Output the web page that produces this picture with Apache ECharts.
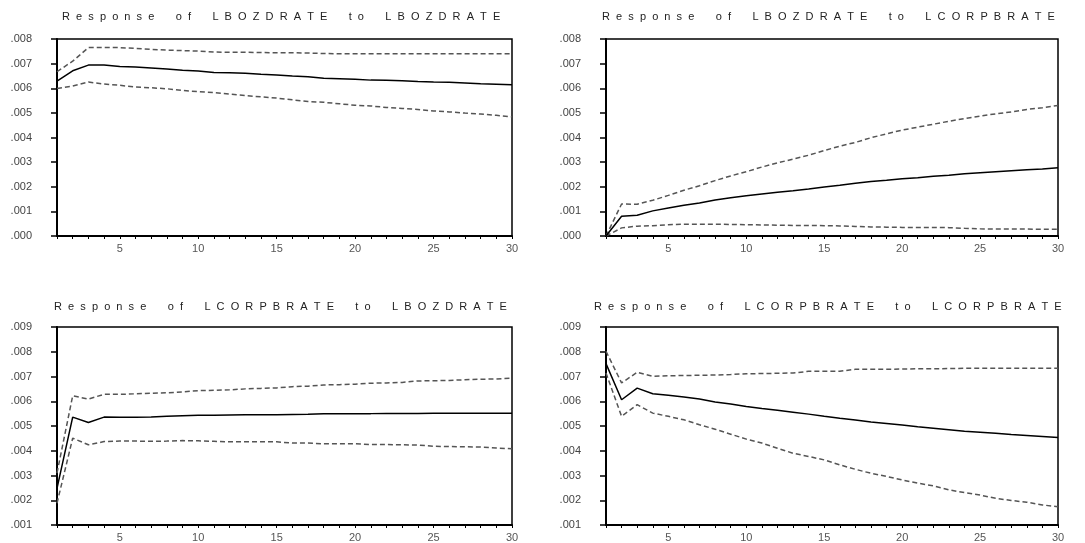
<!DOCTYPE html>
<html>
<head>
<meta charset="utf-8">
<script src="https://cdn.jsdelivr.net/npm/echarts@6/dist/echarts.min.js"></script>
<style>
html,body{margin:0;padding:0;background:#fff;}
#c{width:1085px;height:543px;}
</style>
</head>
<body>
<div id="c"></div>
<script>
// Horizon (periods)
const periods = Array.from({length: 30}, (_, i) => i + 1);

// Panel titles
const panelTitles = [
  ['Response', 'of', 'LBOZDRATE', 'to', 'LBOZDRATE'],
  ['Response', 'of', 'LBOZDRATE', 'to', 'LCORPBRATE'],
  ['Response', 'of', 'LCORPBRATE', 'to', 'LBOZDRATE'],
  ['Response', 'of', 'LCORPBRATE', 'to', 'LCORPBRATE']
];

// Values in thousandths (.001 units)
// Panel 1: LBOZDRATE to LBOZDRATE
const p1Mid = [6.29,6.71,6.94,6.94,6.88,6.86,6.82,6.78,6.73,6.70,6.64,6.63,6.61,6.57,6.54,6.50,6.47,6.41,6.39,6.37,6.33,6.32,6.30,6.27,6.25,6.24,6.21,6.18,6.16,6.14];
const p1Up  = [6.67,7.10,7.65,7.65,7.65,7.62,7.58,7.55,7.53,7.51,7.47,7.46,7.46,7.45,7.44,7.44,7.43,7.41,7.40,7.40,7.40,7.40,7.40,7.40,7.40,7.40,7.40,7.40,7.40,7.40];
const p1Lo  = [5.99,6.09,6.25,6.17,6.12,6.05,6.02,5.98,5.91,5.86,5.82,5.76,5.70,5.65,5.60,5.53,5.46,5.43,5.37,5.31,5.28,5.22,5.18,5.14,5.08,5.04,4.99,4.95,4.90,4.84];
// Panel 2: LBOZDRATE to LCORPBRATE
const p2Mid = [0.00,0.80,0.84,1.02,1.14,1.25,1.34,1.46,1.55,1.63,1.71,1.78,1.84,1.91,1.99,2.06,2.14,2.21,2.26,2.32,2.37,2.43,2.47,2.53,2.57,2.61,2.65,2.69,2.72,2.77];
const p2Up  = [0.00,1.30,1.29,1.45,1.65,1.86,2.04,2.25,2.44,2.61,2.80,2.97,3.12,3.28,3.47,3.65,3.80,3.99,4.15,4.30,4.42,4.54,4.66,4.77,4.87,4.96,5.04,5.14,5.21,5.30];
const p2Lo  = [0.00,0.33,0.40,0.42,0.46,0.48,0.48,0.48,0.47,0.46,0.45,0.44,0.43,0.43,0.42,0.41,0.39,0.37,0.36,0.35,0.35,0.35,0.34,0.31,0.29,0.28,0.28,0.28,0.27,0.27];
// Panel 3: LCORPBRATE to LBOZDRATE
const p3Mid = [2.48,5.36,5.14,5.36,5.35,5.35,5.36,5.39,5.41,5.43,5.43,5.44,5.45,5.45,5.45,5.46,5.47,5.49,5.50,5.50,5.50,5.51,5.51,5.51,5.52,5.52,5.52,5.52,5.52,5.52];
const p3Up  = [3.10,6.22,6.09,6.28,6.28,6.30,6.32,6.34,6.38,6.43,6.44,6.46,6.50,6.52,6.54,6.59,6.61,6.66,6.67,6.69,6.73,6.74,6.76,6.82,6.83,6.84,6.87,6.89,6.90,6.94];
const p3Lo  = [1.88,4.51,4.24,4.37,4.39,4.39,4.38,4.39,4.41,4.40,4.38,4.36,4.36,4.36,4.36,4.31,4.31,4.28,4.28,4.28,4.25,4.25,4.24,4.23,4.18,4.17,4.16,4.15,4.11,4.08];
// Panel 4: LCORPBRATE to LCORPBRATE
const p4Mid = [7.52,6.06,6.53,6.30,6.24,6.17,6.09,5.97,5.89,5.79,5.71,5.64,5.56,5.48,5.39,5.31,5.24,5.16,5.10,5.04,4.97,4.91,4.85,4.79,4.75,4.71,4.66,4.62,4.58,4.54];
const p4Up  = [8.02,6.74,7.17,7.01,7.03,7.04,7.05,7.06,7.08,7.11,7.12,7.13,7.14,7.21,7.21,7.21,7.29,7.29,7.29,7.30,7.31,7.31,7.32,7.33,7.33,7.33,7.33,7.33,7.33,7.33];
const p4Lo  = [7.14,5.39,5.86,5.52,5.39,5.25,5.05,4.87,4.67,4.47,4.31,4.10,3.90,3.77,3.63,3.43,3.25,3.09,2.96,2.82,2.69,2.58,2.42,2.31,2.21,2.08,1.99,1.92,1.81,1.74];

// Y ranges (thousandths)
const yMins = [0, 0, 1, 1];
const yMaxs = [8, 8, 9, 9];

const panels = [
  {mid: p1Mid, up: p1Up, lo: p1Lo},
  {mid: p2Mid, up: p2Up, lo: p2Lo},
  {mid: p3Mid, up: p3Up, lo: p3Lo},
  {mid: p4Mid, up: p4Up, lo: p4Lo}
];

// Layout
const grids = [
  {left: 57, top: 39, width: 455, height: 197},
  {left: 606, top: 39, width: 452, height: 197},
  {left: 57, top: 327, width: 455, height: 198},
  {left: 606, top: 327, width: 452, height: 198}
];
const titlePos = [
  {left: 62, top: 11},
  {left: 602, top: 11},
  {left: 54, top: 301},
  {left: 594, top: 301}
];

function spaced(words) {
  return words.map(w => w.split('').join('  ')).join('       ');
}

const FONT = 'Liberation Sans';
const option = {
  animation: false,
  backgroundColor: '#fff',
  title: panelTitles.map((t, i) => ({
    text: spaced(t),
    left: titlePos[i].left,
    top: titlePos[i].top,
    padding: 0,
    textStyle: {fontFamily: FONT, fontSize: 11, fontWeight: 'normal', color: '#222'}
  })),
  grid: grids.map(g => Object.assign({show: true, borderColor: '#000', borderWidth: 1.5, backgroundColor: '#fff'}, g)),
  xAxis: grids.map((g, i) => ({
    type: 'value', gridIndex: i, min: 1, max: 30, interval: 1,
    axisLine: {lineStyle: {color: '#000', width: 2}},
    axisTick: {length: 3, lineStyle: {color: '#000', width: 1}},
    axisLabel: {
      fontFamily: FONT, fontSize: 11, color: '#555', margin: 7,
      formatter: v => (v % 5 === 0 ? String(v) : '')
    },
    splitLine: {show: false}
  })),
  yAxis: grids.map((g, i) => ({
    type: 'value', gridIndex: i, min: yMins[i], max: yMaxs[i], interval: 1,
    axisLine: {show: true, lineStyle: {color: '#000', width: 2}},
    axisTick: {show: true, length: 6, lineStyle: {color: '#000', width: 1.5}},
    axisLabel: {
      fontFamily: FONT, fontSize: 11, color: '#444', margin: 25,
      formatter: v => '.' + String(Math.round(v)).padStart(3, '0')
    },
    splitLine: {show: false}
  })),
  series: []
};

panels.forEach((p, i) => {
  const mk = (arr, dashed) => ({
    type: 'line', xAxisIndex: i, yAxisIndex: i, symbol: 'none', clip: true,
    data: periods.map((x, k) => [x, arr[k]]),
    lineStyle: dashed ? {color: '#555', width: 1.5, type: [5, 3]} : {color: '#000', width: 1.5}
  });
  option.series.push(mk(p.up, true), mk(p.lo, true), mk(p.mid, false));
});

const chart = echarts.init(document.getElementById('c'), null, {renderer: 'canvas'});
chart.setOption(option);
</script>
</body>
</html>
